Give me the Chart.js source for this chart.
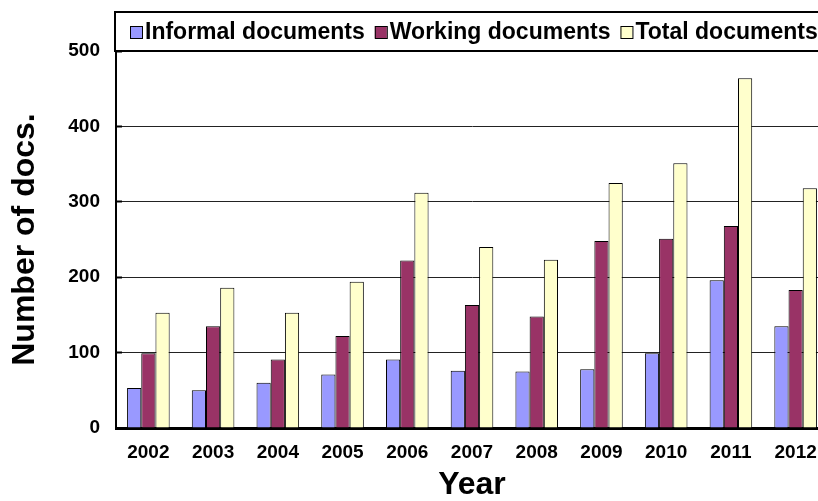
<!DOCTYPE html>
<html>
<head>
<meta charset="utf-8">
<script src="https://cdn.jsdelivr.net/npm/chart.js@4.4.1/dist/chart.umd.min.js"></script>
<style>
    html, body { margin: 0; padding: 0; background: #fff; overflow: hidden; }
    #wrap { position: relative; width: 832px; height: 501px; }
</style>
</head>
<body>
<div id="wrap"><canvas id="docsChart"></canvas></div>
<script>
// --- DATA ---
const years = ['2002', '2003', '2004', '2005', '2006', '2007', '2008', '2009', '2010', '2011', '2012'];
const informalDocs = [53, 50, 60, 71, 91, 76, 75, 78, 99, 196, 135];
const workingDocs = [99, 135, 91, 122, 222, 163, 148, 248, 251, 268, 183];
const totalDocs = [153, 186, 153, 194, 312, 240, 223, 325, 351, 464, 318];
const yTicks = [0, 100, 200, 300, 400, 500];

const FONT = "'Liberation Sans', Arial, sans-serif";

// --- LEGEND (boxed strip above the plot, like the Excel one) ---
const boxLegend = {
    id: 'boxLegend',
    afterDraw(chart) {
        const ctx = chart.ctx;
        const left = chart.chartArea.left;
        const top = 12;
        const bottom = chart.chartArea.top;
        ctx.save();
        ctx.fillStyle = '#fff';
        ctx.fillRect(left, top, chart.width - left + 5, bottom - top);
        ctx.strokeStyle = '#000';
        ctx.lineWidth = 2;
        ctx.strokeRect(left - 1, top, chart.width - left + 10, bottom - top);

        ctx.font = `bold 23px ${FONT}`;
        ctx.textBaseline = 'middle';
        let x = left + 14;
        const cy = 32;
        chart.data.datasets.forEach(ds => {
            ctx.fillStyle = ds.backgroundColor;
            ctx.fillRect(x, cy - 6, 12, 12);
            ctx.lineWidth = 1;
            ctx.strokeStyle = '#000';
            ctx.strokeRect(x + 0.5, cy - 5.5, 12, 12);
            ctx.fillStyle = '#000';
            ctx.fillText(ds.label, x + 15, cy + 1);
            x += 15 + ctx.measureText(ds.label).width + 10;
        });
        ctx.restore();
    }
};

// --- CHART ---
const ctx = document.getElementById('docsChart');
new Chart(ctx, {
    type: 'bar',
    data: {
        labels: years,
        datasets: [
            { label: 'Informal documents', data: informalDocs, backgroundColor: '#9999FF' },
            { label: 'Working documents', data: workingDocs, backgroundColor: '#993366' },
            { label: 'Total documents', data: totalDocs, backgroundColor: '#FFFFCC' }
        ]
    },
    options: {
        responsive: true,
        maintainAspectRatio: false,
        animation: false,
        devicePixelRatio: 1,
        layout: { padding: { top: 51, right: 4, left: 0, bottom: 0 } },
        datasets: {
            bar: {
                barPercentage: 1,
                categoryPercentage: 0.658,
                borderColor: '#000',
                borderWidth: 1
            }
        },
        plugins: {
            legend: { display: false },
            tooltip: { enabled: false }
        },
        scales: {
            x: {
                grid: { display: false },
                border: { display: true, color: '#000', width: 3 },
                ticks: {
                    color: '#000',
                    font: { family: FONT, size: 19, weight: 'bold' },
                    padding: 5,
                    maxRotation: 0
                },
                title: {
                    display: true,
                    text: 'Year',
                    color: '#000',
                    font: { family: FONT, size: 32, weight: 'bold', lineHeight: 1 },
                    padding: { top: 0, bottom: 0 }
                },
                afterFit(scale) { scale.height = 73; }
            },
            y: {
                min: 0,
                max: 500,
                afterBuildTicks(scale) {
                    scale.ticks = yTicks.map(v => ({ value: v }));
                },
                grid: {
                    color: '#222',
                    lineWidth: 1,
                    tickColor: '#000',
                    tickWidth: 2,
                    tickLength: -6
                },
                border: { display: true, color: '#000', width: 2 },
                ticks: {
                    color: '#000',
                    font: { family: FONT, size: 19, weight: 'bold' },
                    padding: 22
                },
                title: {
                    display: true,
                    text: 'Number of docs.',
                    color: '#000',
                    font: { family: FONT, size: 32, weight: 'bold', lineHeight: 1 },
                    padding: { top: 9, bottom: 0 }
                },
                afterFit(scale) { scale.width = 116; }
            }
        }
    },
    plugins: [boxLegend]
});
</script>
</body>
</html>
